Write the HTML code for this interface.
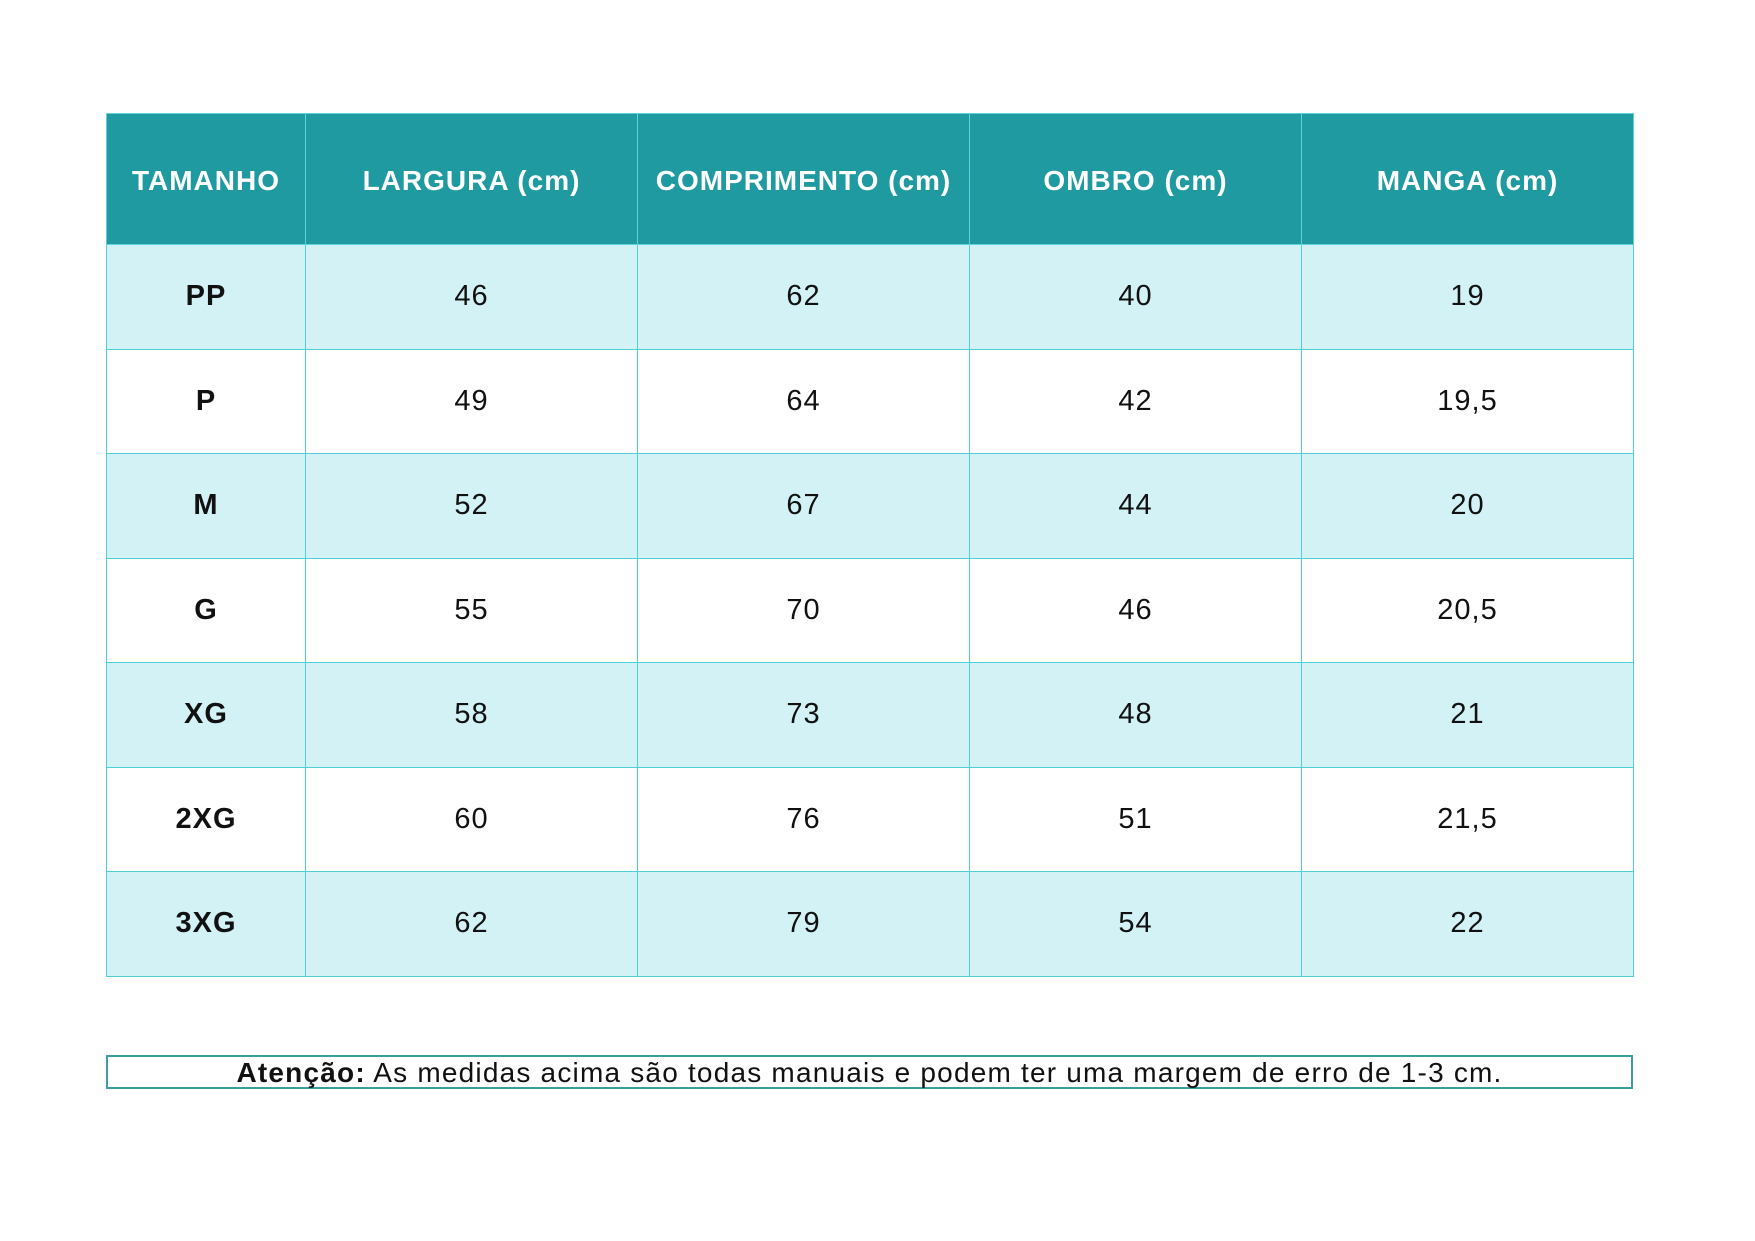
<!DOCTYPE html>
<html><head><style>
body{margin:0;width:1755px;height:1241px;background:#fff;position:relative;font-family:"Liberation Sans",sans-serif;}
table{position:absolute;left:106px;top:113px;border-collapse:collapse;}
td,th{border:1.5px solid #4fcfd6;text-align:center;padding:0;color:#111;font-size:29px;letter-spacing:1px;}
th{background:#1e9aa0;color:#fff;font-weight:bold;font-size:28px;height:126px;border-color:#5fd3da;letter-spacing:1px;padding-top:4px;}
tr.a td{background:#d3f2f5;}
tr.b td{background:#fff;}
td{height:103.5px;}
td:first-child{font-weight:bold;}
.note{position:absolute;left:106px;top:1055px;width:1523px;height:30px;border:2.5px solid #3a9ea3;text-align:center;font-size:28px;line-height:32px;color:#111;letter-spacing:1.2px;}
</style></head><body>
<table>
<tr><th style="width:198px">TAMANHO</th><th style="width:331px">LARGURA (cm)</th><th style="width:331px">COMPRIMENTO (cm)</th><th style="width:331px">OMBRO (cm)</th><th style="width:331px">MANGA (cm)</th></tr>
<tr class="a"><td>PP</td><td>46</td><td>62</td><td>40</td><td>19</td></tr>
<tr class="b"><td>P</td><td>49</td><td>64</td><td>42</td><td>19,5</td></tr>
<tr class="a"><td>M</td><td>52</td><td>67</td><td>44</td><td>20</td></tr>
<tr class="b"><td>G</td><td>55</td><td>70</td><td>46</td><td>20,5</td></tr>
<tr class="a"><td>XG</td><td>58</td><td>73</td><td>48</td><td>21</td></tr>
<tr class="b"><td>2XG</td><td>60</td><td>76</td><td>51</td><td>21,5</td></tr>
<tr class="a"><td>3XG</td><td>62</td><td>79</td><td>54</td><td>22</td></tr>
</table>
<div class="note"><b>Atenção:</b> As medidas acima são todas manuais e podem ter uma margem de erro de 1-3 cm.</div>
</body></html>
